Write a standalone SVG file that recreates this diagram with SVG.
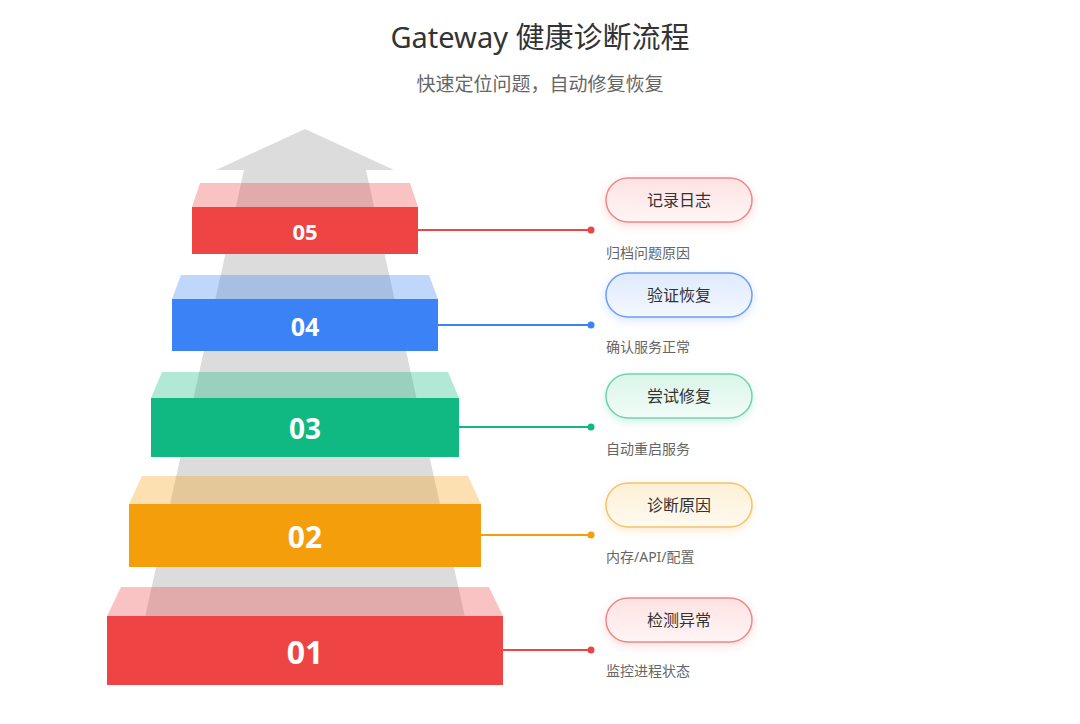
<svg xmlns="http://www.w3.org/2000/svg" width="1080" height="724" viewBox="0 0 1080 724">
<style>
text{font-family:"Noto Sans","Noto Sans CJK SC",sans-serif}
.title{font-size:29px;fill:#333;text-anchor:middle}
.sub{font-size:19px;fill:#666;text-anchor:middle}
.num{fill:#fff;font-weight:700;text-anchor:middle;dominant-baseline:central}
.pt{font-size:16px;fill:#333;text-anchor:middle;dominant-baseline:central}
.desc{font-size:14px;fill:#666;dominant-baseline:central}
.ln{stroke-width:2;fill:none}
</style>
<defs>
<filter id="gR" x="-30%" y="-50%" width="160%" height="200%"><feDropShadow dx="0" dy="3" stdDeviation="4" flood-color="#ef4444" flood-opacity="0.2"/></filter>
<filter id="gB" x="-30%" y="-50%" width="160%" height="200%"><feDropShadow dx="0" dy="3" stdDeviation="4" flood-color="#3b82f6" flood-opacity="0.2"/></filter>
<filter id="gG" x="-30%" y="-50%" width="160%" height="200%"><feDropShadow dx="0" dy="3" stdDeviation="4" flood-color="#10b981" flood-opacity="0.2"/></filter>
<filter id="gO" x="-30%" y="-50%" width="160%" height="200%"><feDropShadow dx="0" dy="3" stdDeviation="4" flood-color="#f59e0b" flood-opacity="0.2"/></filter>
<linearGradient id="fR" x1="0" y1="0" x2="0" y2="1"><stop offset="0" stop-color="#fde2e2"/><stop offset="1" stop-color="#fff5f5"/></linearGradient>
<linearGradient id="fB" x1="0" y1="0" x2="0" y2="1"><stop offset="0" stop-color="#dfeafd"/><stop offset="1" stop-color="#f4f8ff"/></linearGradient>
<linearGradient id="fG" x1="0" y1="0" x2="0" y2="1"><stop offset="0" stop-color="#daf5ea"/><stop offset="1" stop-color="#f2fcf8"/></linearGradient>
<linearGradient id="fO" x1="0" y1="0" x2="0" y2="1"><stop offset="0" stop-color="#fdf0d6"/><stop offset="1" stop-color="#fffaf0"/></linearGradient>
</defs>
<rect width="1080" height="724" fill="#fff"/>
<text class="title" x="540" y="48">Gateway 健康诊断流程</text>
<text class="sub" x="540" y="91">快速定位问题，自动修复恢复</text>

<g id="arrow">
<polygon points="305,129 394,170 366,170 480,685 130,685 244,170 216,170" fill="#dcdcdc"/>
</g>

<g id="connectors">
<line class="ln" x1="503" y1="650" x2="591" y2="650" stroke="#ef4444"/><circle cx="591" cy="650" r="3.5" fill="#ef4444"/>
<line class="ln" x1="481" y1="535" x2="591" y2="535" stroke="#f59e0b"/><circle cx="591" cy="535" r="3.5" fill="#f59e0b"/>
<line class="ln" x1="459" y1="427" x2="591" y2="427" stroke="#10b981"/><circle cx="591" cy="427" r="3.5" fill="#10b981"/>
<line class="ln" x1="438" y1="325" x2="591" y2="325" stroke="#3b82f6"/><circle cx="591" cy="325" r="3.5" fill="#3b82f6"/>
<line class="ln" x1="418" y1="230" x2="591" y2="230" stroke="#ef4444"/><circle cx="591" cy="230" r="3.5" fill="#ef4444"/>
</g>

<g id="step01">
<polygon points="121,587 489,587 503,616 107,616" fill="#ef4444" fill-opacity="0.32"/>
<rect x="107" y="616" width="396" height="69" fill="#ef4444"/>
<text class="num" x="305" y="651" font-size="32">01</text>
<rect x="606" y="598" width="146" height="44" rx="22" fill="url(#fR)" stroke="#ec8a8a" stroke-width="1.5" filter="url(#gR)"/>
<text class="pt" x="679" y="620">检测异常</text>
<text class="desc" x="606" y="670">监控进程状态</text>
</g>

<g id="step02">
<polygon points="142,476 468,476 481,504 129,504" fill="#f59e0b" fill-opacity="0.32"/>
<rect x="129" y="504" width="352" height="63" fill="#f59e0b"/>
<text class="num" x="305" y="536" font-size="30">02</text>
<rect x="606" y="483" width="146" height="44" rx="22" fill="url(#fO)" stroke="#f3c46e" stroke-width="1.5" filter="url(#gO)"/>
<text class="pt" x="679" y="505">诊断原因</text>
<text class="desc" x="606" y="556">内存/API/配置</text>
</g>

<g id="step03">
<polygon points="162,372 448,372 459,398 151,398" fill="#10b981" fill-opacity="0.32"/>
<rect x="151" y="398" width="308" height="59" fill="#10b981"/>
<text class="num" x="305" y="428" font-size="28">03</text>
<rect x="606" y="374" width="146" height="44" rx="22" fill="url(#fG)" stroke="#72d3ad" stroke-width="1.5" filter="url(#gG)"/>
<text class="pt" x="679" y="396">尝试修复</text>
<text class="desc" x="606" y="448">自动重启服务</text>
</g>

<g id="step04">
<polygon points="181,275 429,275 438,299 172,299" fill="#3b82f6" fill-opacity="0.32"/>
<rect x="172" y="299" width="266" height="52" fill="#3b82f6"/>
<text class="num" x="305" y="326" font-size="25">04</text>
<rect x="606" y="273" width="146" height="44" rx="22" fill="url(#fB)" stroke="#6d9ff2" stroke-width="1.5" filter="url(#gB)"/>
<text class="pt" x="679" y="295">验证恢复</text>
<text class="desc" x="606" y="346">确认服务正常</text>
</g>

<g id="step05">
<polygon points="200,183 410,183 418,207 192,207" fill="#ef4444" fill-opacity="0.32"/>
<rect x="192" y="207" width="226" height="47" fill="#ef4444"/>
<text class="num" x="305" y="231" font-size="22">05</text>
<rect x="606" y="178" width="146" height="44" rx="22" fill="url(#fR)" stroke="#ec8a8a" stroke-width="1.5" filter="url(#gR)"/>
<text class="pt" x="679" y="200">记录日志</text>
<text class="desc" x="606" y="252">归档问题原因</text>
</g>
</svg>
